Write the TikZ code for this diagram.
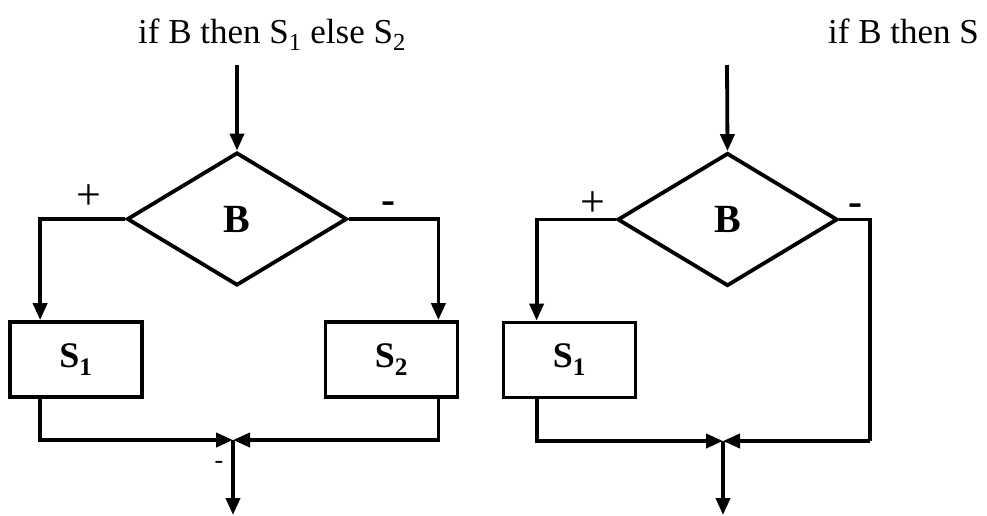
\documentclass[tikz,border=0pt]{standalone}
\usepackage{fontspec}
\setmainfont{Liberation Serif}
\usetikzlibrary{shapes.geometric,arrows.meta}
\tikzset{
  flow/.style={line width=3.8pt, line join=miter, line cap=butt},
  arr/.style={flow, -{Triangle[length=17pt,width=14pt]}},
  test/.style={diamond, draw, line width=3.8pt, inner sep=0pt, minimum width=220pt, minimum height=133pt, aspect=1.65, font=\fontsize{40}{40}\selectfont\bfseries},
  stmt/.style={rectangle, draw, line width=3.8pt, inner sep=0pt, minimum width=132pt, minimum height=75pt, font=\fontsize{36}{36}\selectfont\bfseries},
  title/.style={anchor=base west, inner sep=0pt, font=\fontsize{35}{35}\selectfont},
  sign/.style={inner sep=0pt, font=\fontsize{44}{44}\selectfont},
  minus/.style={inner sep=0pt, font=\fontsize{42}{42}\selectfont\bfseries},
}
\begin{document}
\begin{tikzpicture}[x=1pt,y=-1pt]
\useasboundingbox (0,0) rectangle (987,515);
% titles
\node[title] (title1) at (138,43) {if B then S\textsubscript{1} else S\textsubscript{2}};
\node[title] (title2) at (828,43) {if B then S};
% left diagram
\coordinate (t1) at (237,65);
\node[test] (d1) at (237,219) {B};
\node[stmt] (s1) at (76,359.5) {S\textsubscript{1}};
\node[stmt] (s2) at (391.5,359.5) {S\textsubscript{2}};
\coordinate (j1) at (233,440);
\coordinate (e1) at (233,515);
\draw[arr] (t1) -- (d1.north);
\draw[arr] (d1.west) -| ([xshift=32pt]s1.north west);
\draw[arr] (d1.east) -| ([xshift=-21pt]s2.north east);
\draw[arr] ([xshift=32pt]s1.south west) |- (j1);
\draw[arr] ([xshift=-21pt]s2.south east) |- (j1);
\draw[arr] (j1) -- (e1);
\node[sign] (p1) at (89,197) {+};
\node[minus] (m1) at (388,208) {-};
\node[minus,font=\fontsize{26}{26}\selectfont] (m0) at (219,465) {-};
% right diagram
\coordinate (t2) at (727,65);
\node[test] (d2) at (727.5,219.5) {B};
\node[stmt] (s3) at (569.5,360) {S\textsubscript{1}};
\coordinate (k2) at (870,441);
\coordinate (j2) at (723,441);
\coordinate (e2) at (723,515);
\draw[arr] (t2) -- (d2.north);
\draw[arr] (d2.west) -| ([xshift=35pt]s3.north west);
\draw[flow] (d2.east) -| (k2);
\draw[arr] (k2) -- (j2);
\draw[arr] ([xshift=35pt]s3.south west) |- (j2);
\draw[arr] (j2) -- (e2);
\node[sign] (p2) at (593,204) {+};
\node[minus] (m2) at (855,210) {-};
\end{tikzpicture}
\end{document}
